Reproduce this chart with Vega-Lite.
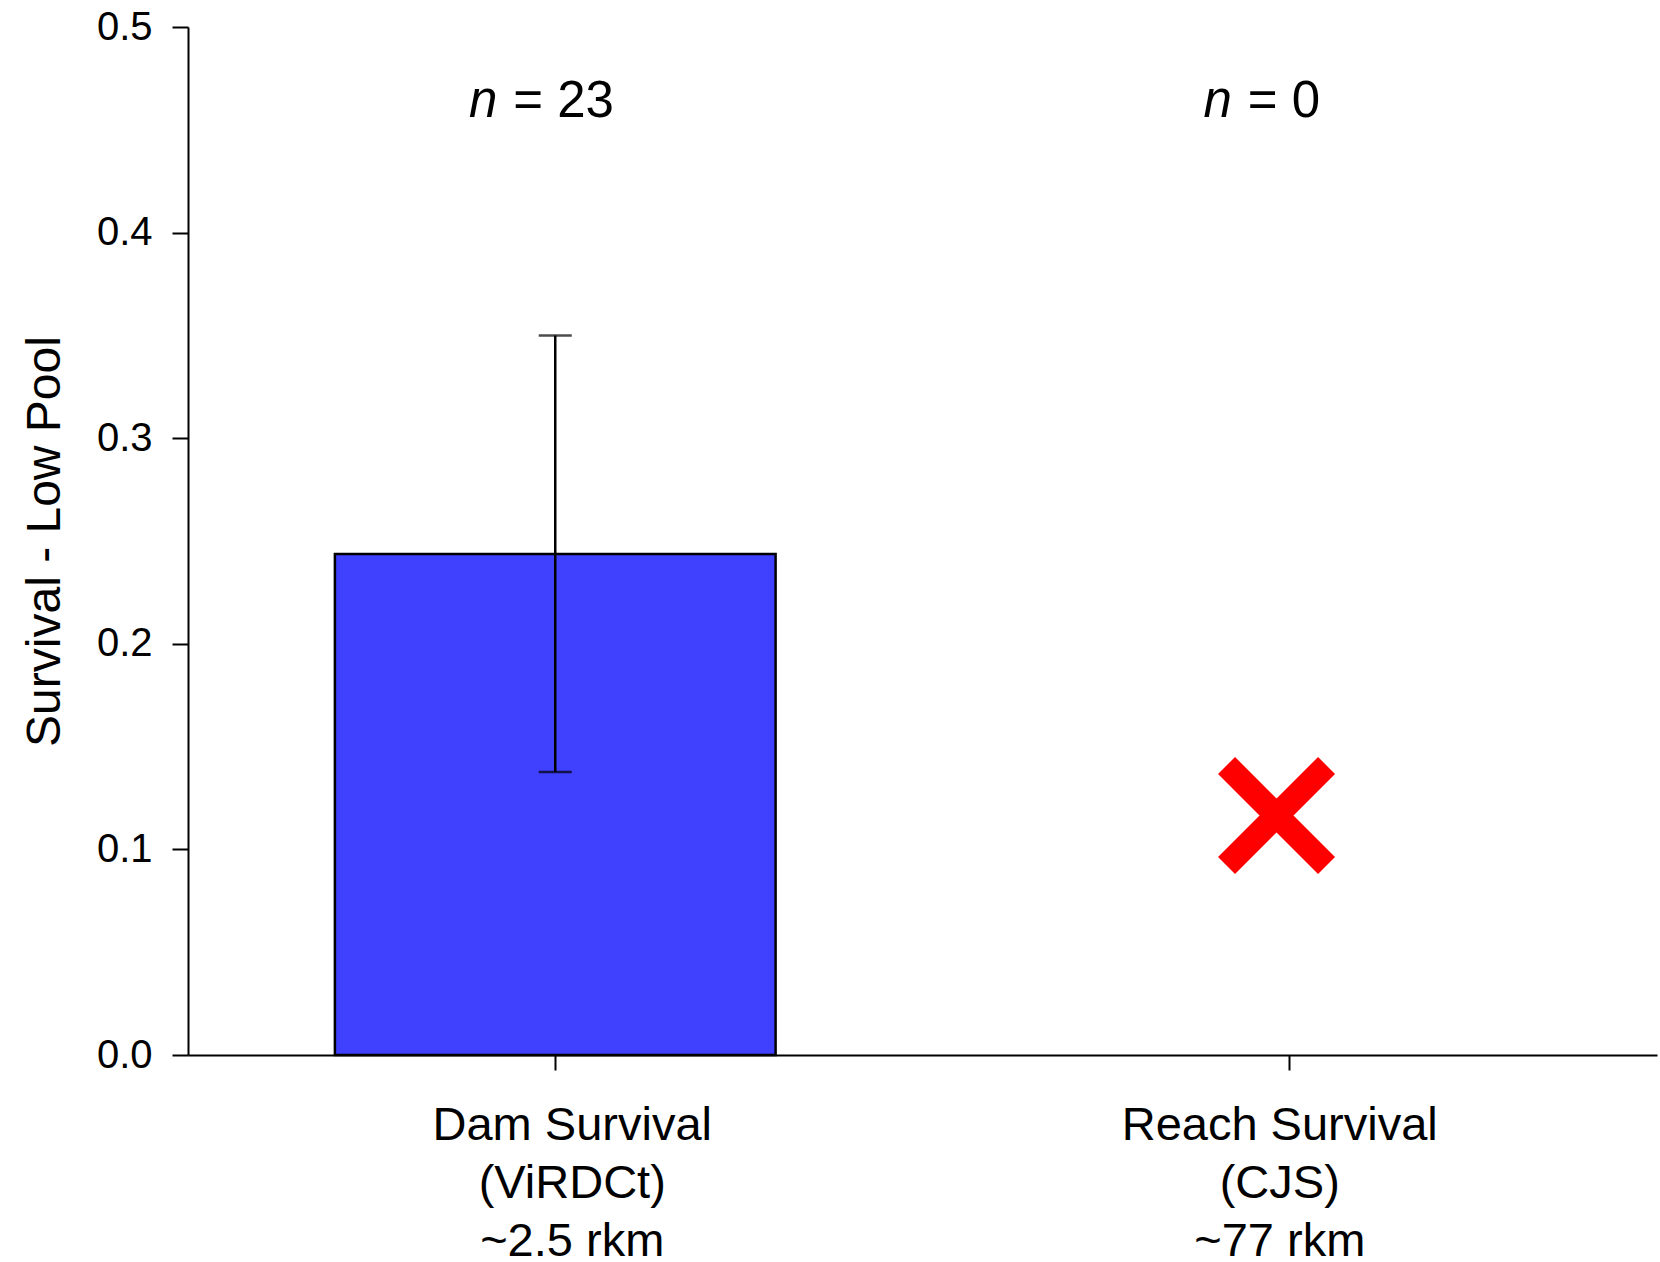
{
  "$schema": "https://vega.github.io/schema/vega-lite/v6.json",
  "autosize": {"type": "none"},
  "padding": {"left": 188, "top": 27, "right": 3, "bottom": 207},
  "width": 1469,
  "height": 1028,
  "background": "white",
  "config": {
    "view": {"stroke": null},
    "font": "Liberation Sans",
    "axis": {"domainColor": "black", "domainWidth": 2, "tickColor": "black", "tickWidth": 2, "labelColor": "black", "titleColor": "black", "grid": false, "labelFont": "Liberation Sans", "titleFont": "Liberation Sans"}
  },
  "data": {
    "values": [
      {"group": "Dam Survival|(ViRDCt)|~2.5 rkm", "survival": 0.2437, "lower": 0.1377, "upper": 0.350, "n_label": "= 23", "marker": null},
      {"group": "Reach Survival|(CJS)|~77 rkm", "survival": null, "lower": null, "upper": null, "n_label": "= 0", "marker": 0.1165}
    ]
  },
  "encoding": {
    "x": {
      "field": "group", "type": "nominal", "sort": null,
      "scale": {"paddingInner": 0.4, "paddingOuter": 0.2},
      "axis": {
        "title": null, "labelAngle": 0, "tickSize": 15, "labelFontSize": 47, "labelLineHeight": 58,
        "labelPadding": 32, "labelBaseline": "top", "labelLimit": 0,
        "labelExpr": "split(datum.label, '|')",
        "labelOffset": {"condition": {"test": "indexof(datum.value, 'Dam') === 0", "value": 17}, "value": -10}
      }
    }
  },
  "layer": [
    {
      "mark": {"type": "bar", "fill": "#4040ff", "stroke": "black", "strokeWidth": 2.5},
      "encoding": {
        "y": {
          "field": "survival", "type": "quantitative",
          "scale": {"domain": [0, 0.5], "nice": false, "zero": true},
          "axis": {
            "title": "Survival - Low Pool", "titleFontSize": 48, "titleFontWeight": "normal",
            "titleX": -143, "titleY": 514, "titleAngle": -90, "titleAlign": "center", "titleBaseline": "middle",
            "values": [0, 0.1, 0.2, 0.3, 0.4, 0.5], "format": ".1f",
            "labelFontSize": 40, "tickSize": 16, "labelPadding": 20
          }
        }
      }
    },
    {
      "mark": {"type": "rule", "color": "black", "strokeWidth": 2.5},
      "encoding": {
        "y": {"field": "lower", "type": "quantitative"},
        "y2": {"field": "upper"}
      }
    },
    {
      "mark": {"type": "tick", "color": "black", "size": 33, "thickness": 2.5, "orient": "horizontal"},
      "encoding": {"y": {"field": "upper", "type": "quantitative"}}
    },
    {
      "mark": {"type": "tick", "color": "black", "size": 33, "thickness": 2.5, "orient": "horizontal"},
      "encoding": {"y": {"field": "lower", "type": "quantitative"}}
    },
    {
      "mark": {"type": "point", "shape": "M-1,-1L1,1M1,-1L-1,1", "filled": false, "stroke": "#ff0000", "strokeWidth": 24, "strokeCap": "butt", "size": 10000, "opacity": 1},
      "encoding": {
        "x": {"field": "group", "type": "nominal", "sort": null, "bandPosition": 0.47},
        "y": {"field": "marker", "type": "quantitative"}
      }
    },
    {
      "mark": {"type": "text", "text": "n", "fontStyle": "italic", "fontSize": 51, "align": "right", "baseline": "alphabetic", "dx": -58, "color": "black"},
      "encoding": {"y": {"datum": 0.456, "type": "quantitative"}}
    },
    {
      "mark": {"type": "text", "fontSize": 51, "align": "left", "baseline": "alphabetic", "dx": -42, "color": "black"},
      "encoding": {
        "y": {"datum": 0.456, "type": "quantitative"},
        "text": {"field": "n_label", "type": "nominal"}
      }
    }
  ]
}
